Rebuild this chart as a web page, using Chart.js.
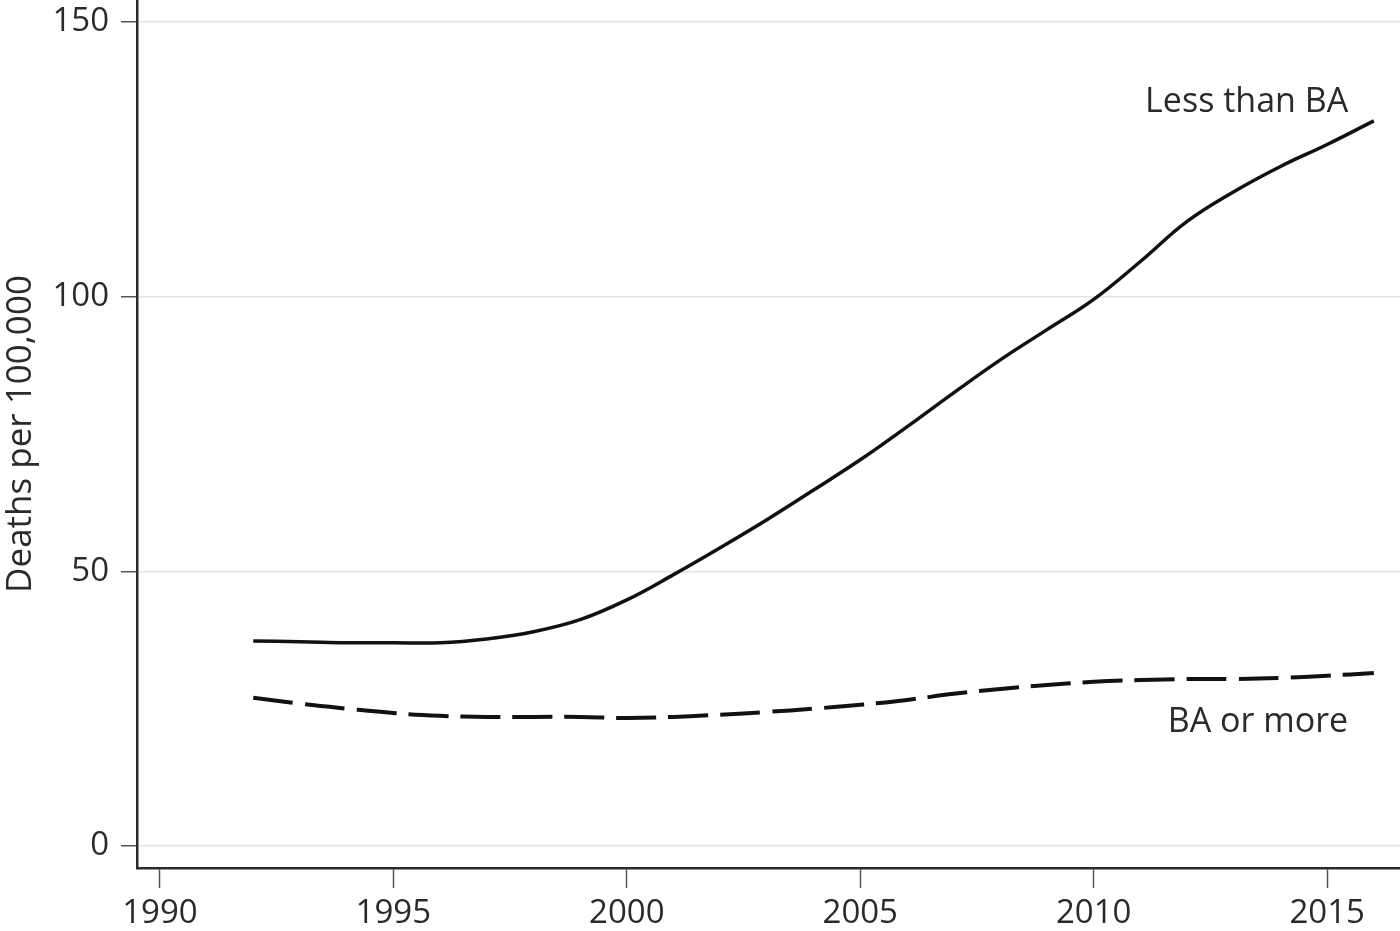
<!DOCTYPE html>
<html>
<head>
<meta charset="utf-8">
<script src="https://cdn.jsdelivr.net/npm/chart.js@4"></script>
<style>
  html, body { margin: 0; padding: 0; background: #fff; }
  canvas { display: block; }
</style>
</head>
<body>
<canvas id="myChart" width="1400" height="931"></canvas>
<script>
const years = [1992, 1993, 1994, 1995, 1996, 1997, 1998, 1999, 2000, 2001, 2002, 2003, 2004,
               2005, 2006, 2007, 2008, 2009, 2010, 2011, 2012, 2013, 2014, 2015, 2016];
const lessThanBA = [37.3, 37.2, 37.0, 37.0, 37.0, 37.7, 39.0, 41.2, 44.8, 49.4, 54.3, 59.4, 64.8,
                    70.3, 76.3, 82.5, 88.5, 94.0, 99.5, 106.4, 113.7, 119.1, 123.7, 127.7, 132.0];
const baOrMore = [27.0, 25.9, 25.0, 24.2, 23.7, 23.5, 23.5, 23.5, 23.3, 23.5, 23.9, 24.4, 25.0,
                  25.7, 26.6, 27.7, 28.6, 29.3, 29.9, 30.2, 30.4, 30.4, 30.6, 31.0, 31.5];
const xTicks = [1990, 1995, 2000, 2005, 2010, 2015];
const yTicks = [0, 50, 100, 150];
const seriesLabels = ["Less than BA", "BA or more"];

const font = "'Open Sans', 'Noto Sans', sans-serif";
const ink = "#2a2a2a";

// line labels, placed next to the end of each line
const lineLabels = {
    id: "lineLabels",
    afterDatasetsDraw(chart) {
        const { ctx, scales: { x, y } } = chart;
        ctx.save();
        ctx.font = "34px " + font;
        ctx.fillStyle = ink;
        ctx.textAlign = "right";
        ctx.textBaseline = "middle";
        ctx.fillText(seriesLabels[0], x.getPixelForValue(2015.45), y.getPixelForValue(135.4));
        ctx.fillText(seriesLabels[1], x.getPixelForValue(2015.45), y.getPixelForValue(22.6));
        ctx.restore();
    }
};

const ctx = document.getElementById("myChart");

const myChart = new Chart(ctx, {
    type: "line",
    data: {
        datasets: [
            {
                label: seriesLabels[0],
                data: years.map((yr, i) => ({ x: yr, y: lessThanBA[i] })),
                borderColor: "#111",
                borderWidth: 3.5,
                pointRadius: 0,
                tension: 0.4,
            },
            {
                label: seriesLabels[1],
                data: years.map((yr, i) => ({ x: yr, y: baOrMore[i] })),
                borderColor: "#111",
                borderWidth: 4,
                borderDash: [40, 12],
                pointRadius: 0,
                tension: 0.4,
            },
        ]
    },
    options: {
        responsive: false,
        animation: false,
        layout: { padding: 0 },
        plugins: {
            legend: { display: false },
            tooltip: { enabled: false },
        },
        scales: {
            x: {
                type: "linear",
                min: 1989.51,
                max: 2016.56,
                afterBuildTicks: (s) => { s.ticks = xTicks.map(v => ({ value: v })); },
                afterFit: (s) => { s.height = 63; s.paddingLeft = 0; s.paddingRight = 0; },
                grid: {
                    drawOnChartArea: false,
                    tickLength: 20,
                    tickColor: "#555",
                    tickWidth: 1.5,
                },
                border: { color: ink, width: 2.5 },
                ticks: {
                    color: ink,
                    font: { family: font, size: 33 },
                    padding: 6,
                    maxRotation: 0,
                    callback: (v) => String(v),
                },
            },
            y: {
                min: -4.0,
                max: 154.0,
                afterBuildTicks: (s) => { s.ticks = yTicks.map(v => ({ value: v })); },
                afterFit: (s) => { s.width = 137; s.paddingTop = 0; s.paddingBottom = 0; },
                grid: {
                    color: "#e4e4e4",
                    lineWidth: 1.5,
                    tickLength: 16,
                    tickColor: "#555",
                    tickWidth: 1.5,
                },
                border: { color: ink, width: 2.5 },
                ticks: {
                    color: ink,
                    font: { family: font, size: 33 },
                    padding: 12,
                },
                title: {
                    display: true,
                    text: "Deaths per 100,000",
                    color: ink,
                    font: { family: font, size: 35 },
                    padding: { top: 0, bottom: 0 },
                },
            },
        },
    },
    plugins: [lineLabels],
});
</script>
</body>
</html>
